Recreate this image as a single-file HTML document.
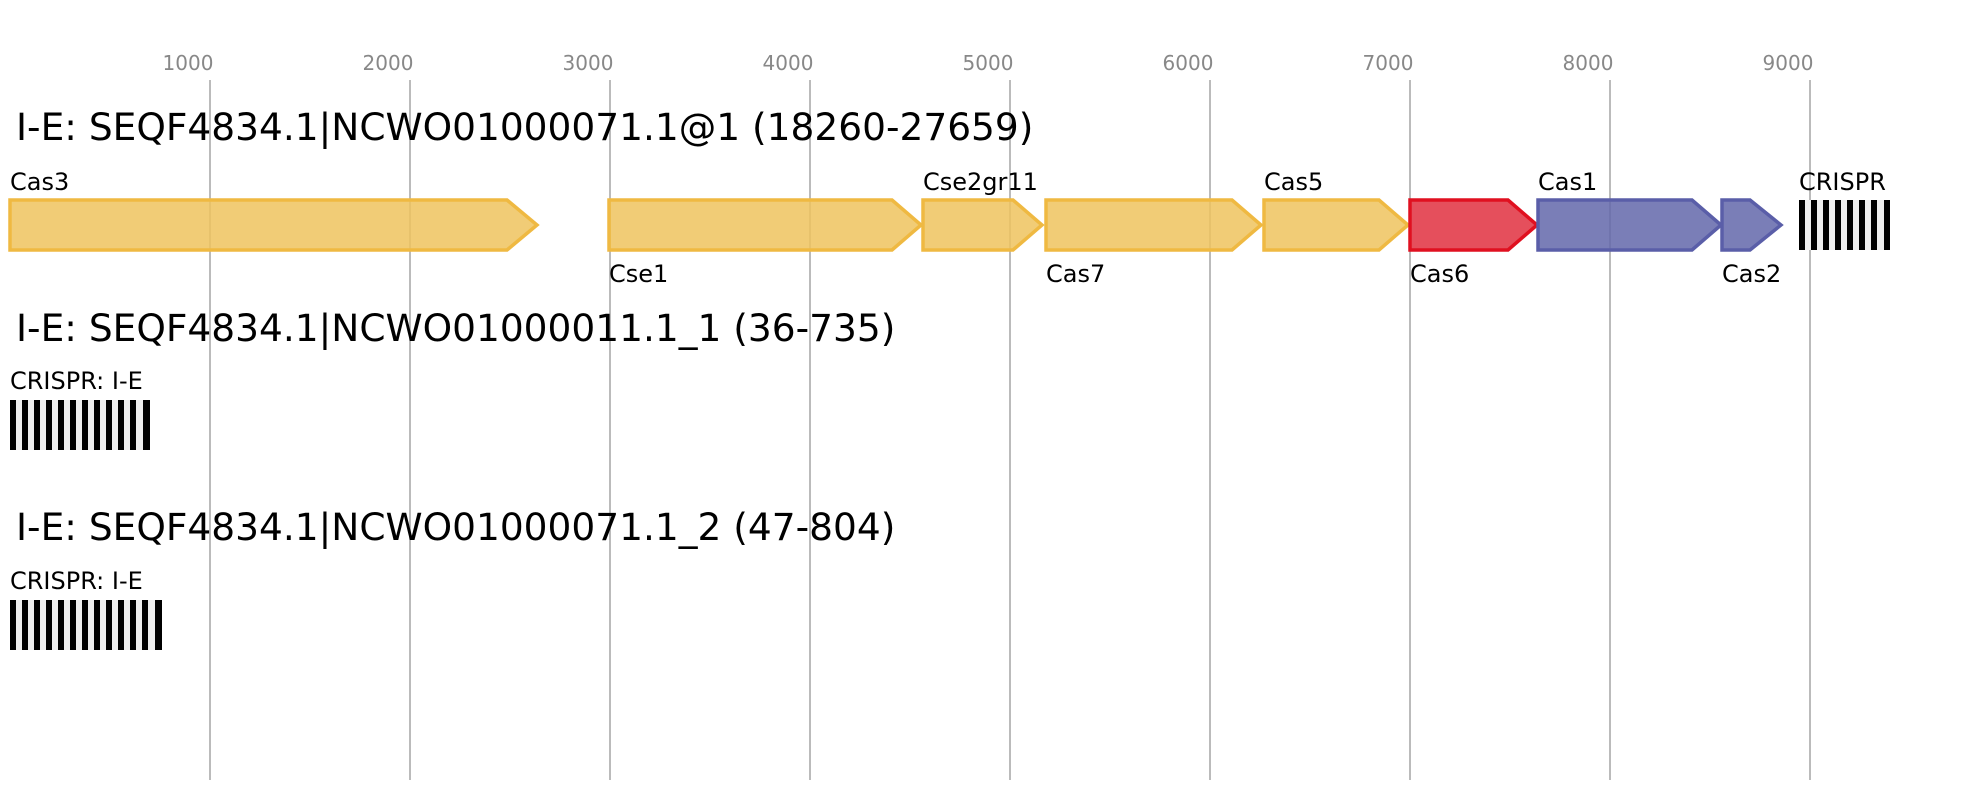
<!DOCTYPE html>
<html><head><meta charset="utf-8"><style>
html,body{margin:0;padding:0;background:#fff;}
svg{display:block;}
text{font-family:"DejaVu Sans","Liberation Sans",sans-serif;}
</style></head><body>
<svg width="1980" height="800" viewBox="0 0 1980 800" xmlns="http://www.w3.org/2000/svg">
<g stroke="#bbb" stroke-width="2">
<line x1="210" y1="80" x2="210" y2="780"/><line x1="410" y1="80" x2="410" y2="780"/>
<line x1="610" y1="80" x2="610" y2="780"/><line x1="810" y1="80" x2="810" y2="780"/>
<line x1="1010" y1="80" x2="1010" y2="780"/><line x1="1210" y1="80" x2="1210" y2="780"/>
<line x1="1410" y1="80" x2="1410" y2="780"/><line x1="1610" y1="80" x2="1610" y2="780"/>
<line x1="1810" y1="80" x2="1810" y2="780"/>
</g>
<g fill="#888" font-size="20" text-anchor="middle">
<text x="188" y="70">1000</text><text x="388" y="70">2000</text><text x="588" y="70">3000</text>
<text x="788" y="70">4000</text><text x="988" y="70">5000</text><text x="1188" y="70">6000</text>
<text x="1388" y="70">7000</text><text x="1588" y="70">8000</text><text x="1788" y="70">9000</text>
</g>
<g font-size="37.5" fill="#000">
<text x="16" y="140">I-E: SEQF4834.1|NCWO01000071.1@1 (18260-27659)</text>
<text x="16" y="341">I-E: SEQF4834.1|NCWO01000011.1_1 (36-735)</text>
<text x="16" y="540">I-E: SEQF4834.1|NCWO01000071.1_2 (47-804)</text>
</g>
<g stroke-width="3.5" stroke-linejoin="miter" fill-opacity="0.85">
<g fill="#efc35e" stroke="#efb942">
<polygon points="10,200 507,200 537,225 507,250 10,250"/>
<polygon points="609,200 892,200 921,225 892,250 609,250"/>
<polygon points="923,200 1013,200 1042,225 1013,250 923,250"/>
<polygon points="1046,200 1232,200 1261,225 1232,250 1046,250"/>
<polygon points="1264,200 1379,200 1408,225 1379,250 1264,250"/>
</g>
<polygon fill="#e0303f" stroke="#e01020" points="1410,200 1508,200 1537,225 1508,250 1410,250"/>
<g fill="#6367aa" stroke="#5a5ea8">
<polygon points="1538,200 1692,200 1721,225 1692,250 1538,250"/>
<polygon points="1722,200 1750,200 1781,225 1750,250 1722,250"/>
</g>
</g>
<g font-size="24" fill="#000">
<text x="10" y="190">Cas3</text>
<text x="609" y="282">Cse1</text>
<text x="923" y="190">Cse2gr11</text>
<text x="1046" y="282">Cas7</text>
<text x="1264" y="190">Cas5</text>
<text x="1410" y="282">Cas6</text>
<text x="1538" y="190">Cas1</text>
<text x="1722" y="282">Cas2</text>
<text x="1799" y="190">CRISPR</text>
<text x="10" y="389">CRISPR: I-E</text>
<text x="10" y="589">CRISPR: I-E</text>
</g>
<g>
<rect x="1799" y="200" width="91" height="50" fill="#eee"/>
<g fill="#000">
<rect x="1799" y="200" width="6" height="50"/><rect x="1811" y="200" width="6" height="50"/>
<rect x="1823" y="200" width="6" height="50"/><rect x="1835" y="200" width="6" height="50"/>
<rect x="1847" y="200" width="6" height="50"/><rect x="1859" y="200" width="6" height="50"/>
<rect x="1871" y="200" width="6" height="50"/><rect x="1884" y="200" width="6" height="50"/>
</g>
<rect x="10" y="400" width="140" height="50" fill="#eee"/>
<g fill="#000">
<rect x="10" y="400" width="6" height="50"/><rect x="22" y="400" width="6" height="50"/>
<rect x="34" y="400" width="6" height="50"/><rect x="46" y="400" width="6" height="50"/>
<rect x="58" y="400" width="6" height="50"/><rect x="70" y="400" width="6" height="50"/>
<rect x="82" y="400" width="6" height="50"/><rect x="94" y="400" width="6" height="50"/>
<rect x="106" y="400" width="6" height="50"/><rect x="118" y="400" width="6" height="50"/>
<rect x="130" y="400" width="6" height="50"/><rect x="143" y="400" width="7" height="50"/>
</g>
<rect x="10" y="600" width="152" height="50" fill="#eee"/>
<g fill="#000">
<rect x="10" y="600" width="6" height="50"/><rect x="22" y="600" width="6" height="50"/>
<rect x="34" y="600" width="6" height="50"/><rect x="46" y="600" width="6" height="50"/>
<rect x="58" y="600" width="6" height="50"/><rect x="70" y="600" width="6" height="50"/>
<rect x="82" y="600" width="6" height="50"/><rect x="94" y="600" width="6" height="50"/>
<rect x="106" y="600" width="6" height="50"/><rect x="118" y="600" width="6" height="50"/>
<rect x="130" y="600" width="6" height="50"/><rect x="142" y="600" width="6" height="50"/>
<rect x="155" y="600" width="7" height="50"/>
</g>
</g>
</svg>
</body></html>
